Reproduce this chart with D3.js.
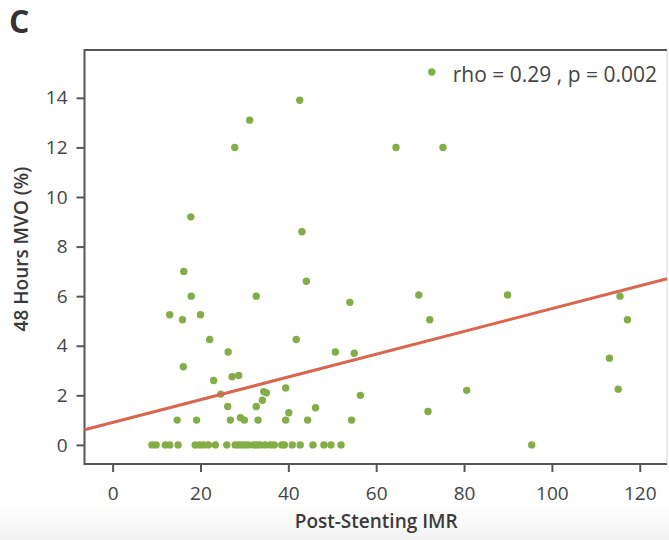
<!DOCTYPE html>
<html>
<head>
<meta charset="utf-8">
<script src="https://cdn.jsdelivr.net/npm/d3@7"></script>
<style>
  body { margin: 0; background: #fff; }
  text { font-family: "Open Sans", sans-serif; }
</style>
</head>
<body>
<div id="chart"></div>
<script>
// post-stenting IMR (x) and 48 h MVO % (y)
const imrPost = [
  31.2, 27.8, 17.8, 42.6, 64.5, 75.2, 43.1, 16.2, 17.9, 32.7,
  13.0, 15.9, 20.0, 22.1, 26.3, 16.1, 23.0, 27.2, 28.7, 24.6,
  34.4, 35.0, 34.1, 26.2, 32.7, 14.7, 19.1, 26.8, 29.1, 30.0,
  33.1, 44.1, 54.0, 69.7, 72.2, 41.8, 50.7, 55.0, 39.4, 56.4,
  46.2, 40.1, 39.4, 44.4, 54.4, 71.8, 80.6, 89.9, 115.5, 117.2,
  113.1, 115.1,
  8.95, 9.9, 12.0, 13.0, 14.9, 18.8, 19.8, 20.7, 21.8, 23.4,
  26.0, 27.9, 28.7, 29.4, 30.2, 30.9, 32.1, 32.8, 33.6, 34.7,
  35.9, 36.8, 38.5, 39.1, 40.9, 42.7, 45.6, 48.1, 49.7, 52.0,
  95.4
];
const mvo48 = [
  13.1, 12.0, 9.2, 13.9, 12.0, 12.0, 8.6, 7.0, 6.0, 6.0,
  5.25, 5.05, 5.25, 4.25, 3.75, 3.15, 2.6, 2.75, 2.8, 2.05,
  2.15, 2.1, 1.8, 1.55, 1.55, 1.0, 1.0, 1.0, 1.1, 1.0,
  1.0, 6.6, 5.75, 6.05, 5.05, 4.25, 3.75, 3.7, 2.3, 2.0,
  1.5, 1.3, 1.0, 1.0, 1.0, 1.35, 2.2, 6.05, 6.0, 5.05,
  3.5, 2.25,
  0, 0, 0, 0, 0, 0, 0, 0, 0, 0,
  0, 0, 0, 0, 0, 0, 0, 0, 0, 0,
  0, 0, 0, 0, 0, 0, 0, 0, 0, 0,
  0
];
const xTicks = [0, 20, 40, 60, 80, 100, 120];
const yTicks = [0, 2, 4, 6, 8, 10, 12, 14];
const fitImr = [-6.4, 126.2];
const fitMvo = [0.61, 6.7];
const statLabel = 'rho = 0.29 , p = 0.002';

const width = 669, height = 540;
const box = { left: 84.5, right: 667, top: 50, bottom: 464 };
const green = '#82ad47';

const svg = d3.select('#chart').append('svg')
    .attr('width', width)
    .attr('height', height);

// faint grey band at the very bottom of the page
const grad = svg.append('defs').append('linearGradient')
    .attr('id', 'fade').attr('x1', 0).attr('x2', 0).attr('y1', 0).attr('y2', 1);
grad.append('stop').attr('offset', '0%').attr('stop-color', '#ffffff');
grad.append('stop').attr('offset', '100%').attr('stop-color', '#f2f2f2');
svg.append('rect')
    .attr('x', 0).attr('y', 505).attr('width', width).attr('height', 35)
    .attr('fill', 'url(#fade)');

const x = d3.scaleLinear().domain([-6.4, 126.2]).range([box.left, box.right]);
const y = d3.scaleLinear().domain([-0.77, 15.93]).range([box.bottom, box.top]);

// panel label
svg.append('text')
    .attr('x', 9).attr('y', 33)
    .attr('font-size', 32).attr('font-weight', 700)
    .attr('fill', '#333')
    .text('C');

// frame
svg.append('line')
    .attr('x1', box.right).attr('x2', box.right)
    .attr('y1', box.top).attr('y2', box.bottom)
    .attr('stroke', '#d8d8d8').attr('stroke-width', 1);
svg.append('path')
    .attr('d', `M${box.right},${box.top}H${box.left}V${box.bottom}H${box.right}`)
    .attr('fill', 'none')
    .attr('stroke', '#555')
    .attr('stroke-width', 2);

const xAxis = svg.append('g')
    .attr('transform', `translate(0,${box.bottom})`)
    .call(d3.axisBottom(x).tickValues(xTicks).tickSize(8).tickSizeOuter(0).tickPadding(15));
const yAxis = svg.append('g')
    .attr('transform', `translate(${box.left},0)`)
    .call(d3.axisLeft(y).tickValues(yTicks).tickSize(8).tickSizeOuter(0).tickPadding(9));

[xAxis, yAxis].forEach(g => {
  g.select('.domain').remove();
  g.selectAll('.tick line').attr('stroke', '#555').attr('stroke-width', 2);
  g.selectAll('.tick text')
      .attr('font-size', 19)
      .attr('font-family', '"Open Sans", sans-serif')
      .attr('fill', '#444');
});

// axis titles
svg.append('text')
    .attr('x', x(60)).attr('y', 528)
    .attr('text-anchor', 'middle')
    .attr('font-size', 19).attr('font-weight', 600)
    .attr('fill', '#3a3a3a')
    .text('Post-Stenting IMR');

svg.append('text')
    .attr('transform', `translate(28,${y(7.9)}) rotate(-90)`)
    .attr('text-anchor', 'middle')
    .attr('font-size', 19).attr('font-weight', 600)
    .attr('fill', '#3a3a3a')
    .text('48 Hours MVO (%)');

// points
const pts = imrPost.map((v, i) => ({ imr: v, mvo: mvo48[i] }));
svg.append('g')
  .selectAll('circle')
    .data(pts)
  .enter().append('circle')
    .attr('cx', d => x(d.imr))
    .attr('cy', d => y(d.mvo))
    .attr('r', 3.7)
    .attr('fill', green);

// fitted line
svg.append('line')
    .attr('x1', x(fitImr[0])).attr('y1', y(fitMvo[0]))
    .attr('x2', x(fitImr[1])).attr('y2', y(fitMvo[1]))
    .attr('stroke', '#d9674f')
    .attr('stroke-width', 3);

// stat legend
const stat = svg.append('text')
    .attr('x', 657).attr('y', 82)
    .attr('text-anchor', 'end')
    .attr('font-size', 21)
    .attr('fill', '#444')
    .text(statLabel);
const sb = stat.node().getBBox();
svg.append('circle')
    .attr('cx', sb.x - 21).attr('cy', 72)
    .attr('r', 3.7)
    .attr('fill', green);
</script>
</body>
</html>
